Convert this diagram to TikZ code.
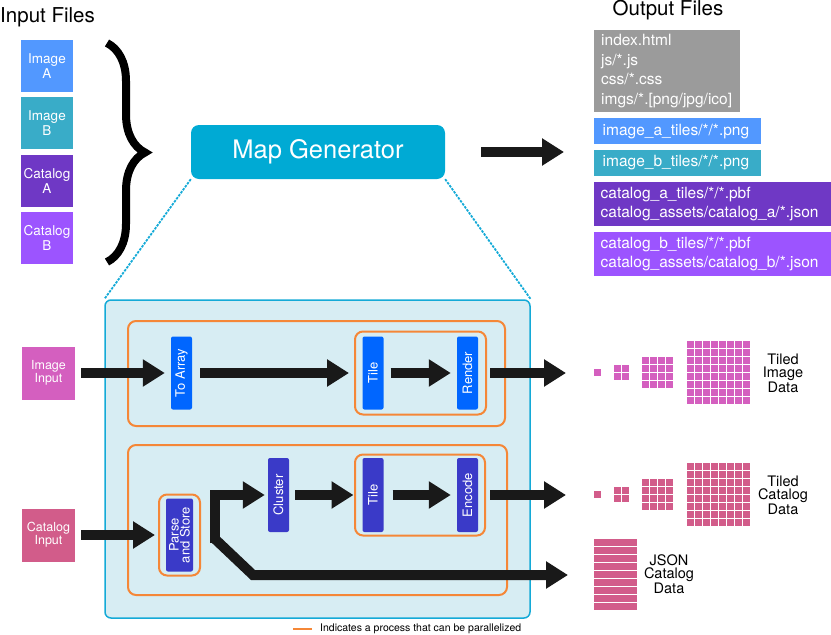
\documentclass[tikz,border=0pt]{standalone}
\usepackage{fontspec}
\setmainfont{TeX Gyre Heros}
\usetikzlibrary{positioning,arrows.meta,decorations.pathreplacing}
\definecolor{myimga}{RGB}{82,152,255}
\definecolor{myimgb}{RGB}{57,172,200}
\definecolor{mycata}{RGB}{111,56,197}
\definecolor{mycatb}{RGB}{156,84,255}
\definecolor{mygray}{RGB}{155,155,155}
\definecolor{mymap}{RGB}{0,170,212}
\definecolor{mypanel}{RGB}{215,237,243}
\definecolor{mypanelline}{RGB}{20,170,215}
\definecolor{myorange}{RGB}{245,135,55}
\definecolor{myblue}{RGB}{0,102,255}
\definecolor{myindigo}{RGB}{58,58,200}
\definecolor{myimgtile}{RGB}{212,95,191}
\definecolor{mycattile}{RGB}{210,92,138}
\colorlet{mydark}{black!90}

\begin{document}
\begin{tikzpicture}[x=1pt,y=-1pt,
  infile/.style={minimum width=52pt,minimum height=52pt,inner sep=0pt,align=center,text=white,font=\fontsize{13.5}{15}\selectfont},
  outfile/.style={anchor=north west,inner xsep=7pt,inner ysep=0pt,align=left,text=white,font=\fontsize{15.5}{19.5}\selectfont},
  proc/.style={rotate=90,rounded corners=2pt,minimum width=73pt,minimum height=21pt,inner sep=0pt,text=white,align=center,font=\fontsize{13}{11}\selectfont},
  frame/.style={draw=myorange,line width=2pt,rounded corners=8pt,inner sep=0pt},
  fat/.style={draw=mydark,line width=10pt,-{Triangle[length=22pt,width=26pt]}},
  lbl/.style={align=center,inner sep=0pt,font=\fontsize{14.5}{13.5}\selectfont}]
    \useasboundingbox (0,0) rectangle (831,635);
    \node[anchor=west,inner sep=0pt,font=\fontsize{20.5}{24}\selectfont] (inT) at (0,17) {Input Files};
    \node[infile,fill=myimga] (IA) at (47,66) {Image\\A};
    \node[infile,fill=myimgb,below=5pt of IA] (IB) {Image\\B};
    \node[infile,fill=mycata,below=5pt of IB] (CA) {Catalog\\A};
    \node[infile,fill=mycatb,below=5pt of CA] (CB) {Catalog\\B};
    \draw[decorate,decoration={brace,amplitude=38pt},line width=8pt] (107,43) -- (107,262);
    \node[fill=mymap,text=white,rounded corners=8pt,minimum width=254pt,minimum height=54pt,font=\fontsize{25.5}{30}\selectfont] (MG) at (318,152) {Map Generator};
    \coordinate (OT) at (564,152);
    \draw[fat,shorten <=36pt] (MG) -- (OT);
    \node[inner sep=0pt,font=\fontsize{20.5}{24}\selectfont] (outT) at (668,10) {Output Files};
    \node[outfile,fill=mygray,text width=132pt,minimum height=82pt] (O0) at (594,30) {index.html\\js/*.js\\css/*.css\\imgs/*.[png/jpg/ico]};
    \node[outfile,fill=myimga,text width=150pt,inner xsep=8.5pt,minimum height=26pt,below right=5.5pt and 0pt of O0.south west] (O1) {image\_a\_tiles/*/*.png};
    \node[outfile,fill=myimgb,text width=150pt,inner xsep=8.5pt,minimum height=26pt,below right=5.5pt and 0pt of O1.south west] (O2) {image\_b\_tiles/*/*.png};
    \node[outfile,fill=mycata,text width=237pt,inner xsep=6.5pt,minimum height=44pt,below right=5.5pt and 0pt of O2.south west] (O3) {catalog\_a\_tiles/*/*.pbf\\catalog\_assets/catalog\_a/*.json};
    \node[outfile,fill=mycatb,text width=237pt,inner xsep=6.5pt,minimum height=44pt,below right=5.5pt and 0pt of O3.south west] (O4) {catalog\_b\_tiles/*/*.pbf\\catalog\_assets/catalog\_b/*.json};
    \node[fill=mypanel,draw=mypanelline,line width=1.5pt,rounded corners=6pt,minimum width=425pt,minimum height=318pt] (P) at (317.5,459) {};
    \draw[mypanelline,line width=1.8pt,dash pattern=on 2.5pt off 1.2pt] (MG.south west) -- (P.north west);
    \draw[mypanelline,line width=1.8pt,dash pattern=on 2.5pt off 1.2pt] (MG.south east) -- (P.north east);
    \node[frame,minimum width=377pt,minimum height=105pt] (F1) at (316.5,373.5) {};
    \node[frame,minimum width=131pt,minimum height=83pt] (F2) at (420.5,373) {};
    \node[frame,minimum width=379pt,minimum height=150pt] (F3) at (317.5,520) {};
    \node[frame,minimum width=130pt,minimum height=81pt] (F4) at (420,495) {};
    \node[frame,minimum width=41pt,minimum height=81pt] (F5) at (179.5,535) {};
    \node[proc,fill=myblue] (TA) at (181.5,373) {To Array};
    \node[proc,fill=myblue] (T1) at (373,373) {Tile};
    \node[proc,fill=myblue] (R) at (467.5,373) {Render};
    \node[proc,fill=myindigo,minimum height=27pt] (PS) at (179.5,535) {Parse\\and Store};
    \node[proc,fill=myindigo,minimum width=74pt] (C) at (278.5,495) {Cluster};
    \node[proc,fill=myindigo,minimum width=74pt] (T2) at (373,495) {Tile};
    \node[proc,fill=myindigo,minimum width=74pt] (E) at (467.5,495) {Encode};
    \node[infile,fill=myimgtile,minimum size=53pt,font=\fontsize{12.5}{11.5}\selectfont] (II) at (48.5,373) {Image\\Input};
    \node[infile,fill=mycattile,minimum size=53pt,font=\fontsize{12.5}{11.5}\selectfont] (CI) at (48.5,535) {Catalog\\Input};
    \draw[fat,shorten <=6pt,shorten >=6pt] (II) -- (TA);
    \draw[fat,shorten <=8pt,shorten >=5pt] (TA) -- (F2);
    \draw[fat,shorten <=7pt,shorten >=6pt] (T1) -- (R);
    \coordinate (IO) at (566,373);
    \draw[fat,shorten <=12pt] (R) -- (IO);
    \draw[fat,shorten <=6pt,shorten >=3pt] (CI) -- (F5);
    \coordinate (S) at ([xshift=14pt,yshift=-4pt]F5.east);
    \draw[fat,shorten >=3pt] ([yshift=-4pt]S) |- (C);
    \draw[fat,shorten <=6pt,shorten >=0.5pt] (C) -- (F4);
    \draw[fat,shorten <=9pt,shorten >=6pt] (T2) -- (E);
    \coordinate (CO) at (566,495);
    \draw[fat,shorten <=12pt] (E) -- (CO);
    \coordinate (B) at (253,575);
    \coordinate (JO) at (568,575);
    \draw[fat] (S) -- (B) -- (JO);
    \foreach \cy/\col in {372/myimgtile,494/mycattile}
    {\foreach \n/\x in {1/594,2/614,4/642,8/687}
    {\foreach \i in {1,...,\n}
    {\foreach \j in {1,...,\n}
    {\fill[\col] ({\x+(\i-1)*8},{\cy-(8*\n-1)/2+(\j-1)*8}) rectangle ++(7,7);}}}}
    \foreach \k in {0,...,8}
    {\fill[mycattile] (594,{539+8*\k}) rectangle ++(43,7);}
    \node[lbl] (TI) at (783,373) {Tiled\\Image\\Data};
    \node[lbl] (TC) at (783,495) {Tiled\\Catalog\\Data};
    \node[lbl] (JC) at (669,574) {JSON\\Catalog\\Data};
    \node[anchor=west,inner sep=0pt,font=\fontsize{10.5}{12}\selectfont] (L) at (320,629) {Indicates a process that can be parallelized};
    \draw[myorange,line width=2pt] ([xshift=-8pt]L.west) -- ++(-19,0);
\end{tikzpicture}
\end{document}
